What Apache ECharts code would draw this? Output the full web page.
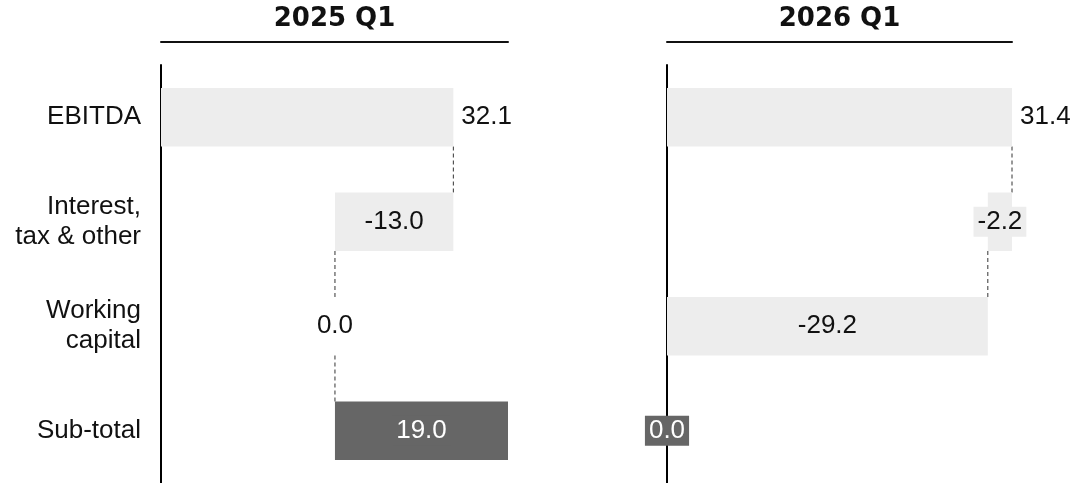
<!DOCTYPE html>
<html>
<head>
<meta charset="utf-8">
<script src="https://cdn.jsdelivr.net/npm/echarts@6/dist/echarts.min.js"></script>
<style>
  html, body { margin: 0; padding: 0; background: #fff; }
  #chart { width: 1076px; height: 483px; }
</style>
</head>
<body>
<div id="chart"></div>
<script>
// categories and values
var categories = ['EBITDA', 'Interest,\ntax & other', 'Working\ncapital', 'Sub-total'];
var titles = ['2025 Q1', '2026 Q1'];
var values2025 = [32.1, -13.0, 0.0, 19.0];
var values2026 = [31.4, -2.2, -29.2, 0.0];

var LIGHT = '#ededed', DARK = '#666666';
var labelFont = 'Liberation Sans, Arial, sans-serif';

// waterfall: invisible base + visible length, running total for connectors
function waterfall(vals) {
  var base = [], len = [], ends = [], r = 0;
  vals.forEach(function (v) {
    if (v >= 0) { base.push(r); len.push(v); }
    else { base.push(r + v); len.push(-v); }
    r += v;
    ends.push(r);
  });
  return { base: base, len: len, ends: ends };
}

function panel(vals, idx) {
  var w = waterfall(vals);
  var last = vals.length - 1;
  var items = w.len.map(function (l, i) {
    var sub = i === last;
    var color = sub ? DARK : LIGHT;
    var lab = {
      show: true,
      position: i === 0 ? 'right' : 'inside',
      distance: 4,
      color: sub ? '#fff' : '#111',
      fontSize: 26,
      fontFamily: labelFont,
      lineHeight: 28,
      padding: [2, 4, 0, 4],
      backgroundColor: i === 0 ? 'transparent' : (vals[i] === 0 && !sub ? '#fff' : color),
      formatter: function () { return vals[i].toFixed(1); }
    };
    return { value: l, itemStyle: { color: color }, label: lab };
  });
  var conn = [];
  for (var i = 0; i < last; i++) {
    if (w.ends[i] !== 0) conn.push([w.ends[i], i]);
  }
  return [
    {
      type: 'bar', stack: 's' + idx, xAxisIndex: idx * 2, yAxisIndex: idx,
      data: w.base, barWidth: '56%', silent: true,
      itemStyle: { color: 'transparent' }, z: 2
    },
    {
      type: 'bar', stack: 's' + idx, xAxisIndex: idx * 2, yAxisIndex: idx,
      data: items, barWidth: '56%', z: 3
    },
    {
      type: 'custom', xAxisIndex: idx * 2, yAxisIndex: idx, z: 1,
      data: conn,
      renderItem: function (params, api) {
        var x = api.value(0), k = api.value(1);
        var p1 = api.coord([x, k]);
        var p2 = api.coord([x, k + 1]);
        var h = api.size([0, 1])[1] * 0.56 / 2;
        return {
          type: 'line',
          shape: { x1: p1[0], y1: p1[1] + h, x2: p2[0], y2: p2[1] - h },
          style: { stroke: '#333', lineWidth: 1, lineDash: [4, 3] }
        };
      }
    }
  ];
}

var grids = [
  { left: 161, top: 65, width: 347, bottom: 0, outerBoundsMode: 'none' },
  { left: 667, top: 65, width: 345, bottom: 0, outerBoundsMode: 'none' }
];

var xAxes = [], yAxes = [];
[0, 1].forEach(function (g) {
  xAxes.push({
    type: 'value', gridIndex: g, show: false, min: 0, max: 'dataMax'
  });
  xAxes.push({
    type: 'value', gridIndex: g, position: 'top', offset: 23, min: 0, max: 1,
    axisLine: { show: true, onZero: false, lineStyle: { color: '#111', width: 2 } },
    axisTick: { show: false }, axisLabel: { show: false }, splitLine: { show: false },
    name: titles[g], nameLocation: 'middle', nameGap: 10,
    nameTextStyle: { fontFamily: 'DejaVu Sans', fontWeight: 'bold', fontSize: 26, color: '#111' }
  });
  yAxes.push({
    type: 'category', gridIndex: g, data: categories, inverse: true,
    axisLine: { show: true, lineStyle: { color: '#000', width: 2 } },
    axisTick: { show: false },
    axisLabel: {
      show: g === 0, fontSize: 26, lineHeight: 30, margin: 20,
      color: '#111', fontFamily: labelFont, align: 'right'
    }
  });
});

var myChart = echarts.init(document.getElementById('chart'));
myChart.setOption({
  animation: false,
  grid: grids,
  xAxis: xAxes,
  yAxis: yAxes,
  series: panel(values2025, 0).concat(panel(values2026, 1))
});
</script>
</body>
</html>
